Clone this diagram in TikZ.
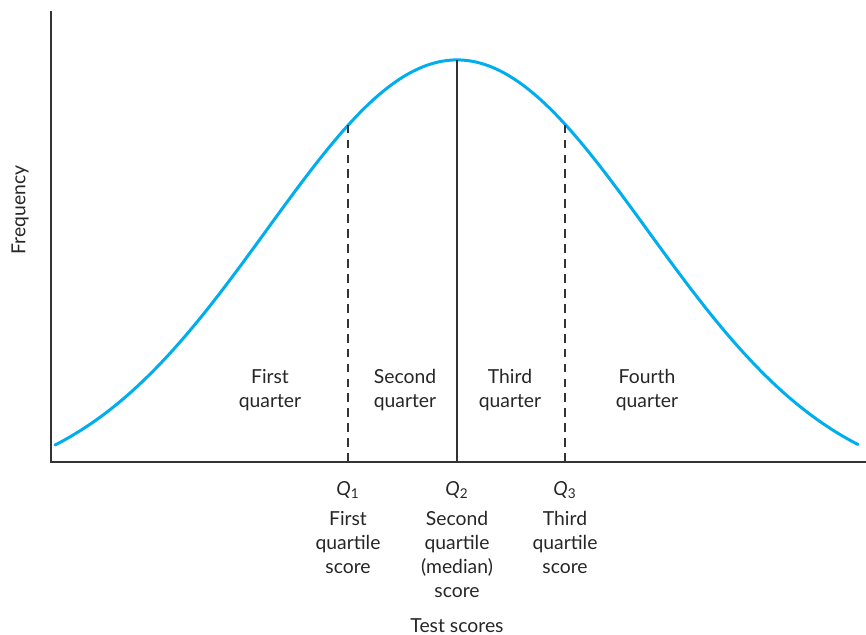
\documentclass[tikz,border=0pt]{standalone}
\usepackage{fontspec}
\setmainfont{Lato}
\usetikzlibrary{positioning}

\definecolor{curveblue}{HTML}{00AEEF}
\definecolor{axisgray}{HTML}{333333}

\begin{document}
\begin{tikzpicture}[x=0.02cm, y=-0.02cm, node distance=0.12cm,
    font=\fontsize{11}{13.7}\selectfont,
    declare function={freq(\t) = 491 - 431*exp(-(((\t-457)/100)^2)/7.22);}]
    % Define styles
    \tikzstyle{axisline}=[draw=axisgray, line width=0.9pt]
    \tikzstyle{quartline}=[draw=axisgray, line width=0.9pt, dashed, dash pattern=on 5pt off 3.5pt]
    \tikzstyle{medline}=[draw=axisgray, line width=1pt]
    \tikzstyle{txt}=[align=center, inner sep=0pt, text=black!85]

    \useasboundingbox (0,0) rectangle (866,635);

    % Axes
    \coordinate (ytop) at (51,11);
    \coordinate (origin) at (51,462);
    \coordinate (xend) at (866,462);
    \draw[axisline] (ytop) -- (origin) -- (xend);
    \node[txt, rotate=90] (freqlab) at (20,210) {Frequency};

    % Frequency curve
    \draw[curveblue, line width=1.7pt, line cap=round]
        plot[domain=55:858, samples=120, smooth] (\x, {freq(\x)});

    % Quartile lines (curve down to axis)
    \coordinate (q1top) at (348, {freq(348)});
    \coordinate (q1bot) at (348, 462);
    \coordinate (q2top) at (457, {freq(457)});
    \coordinate (q2bot) at (457, 462);
    \coordinate (q3top) at (565, {freq(565)});
    \coordinate (q3bot) at (565, 462);
    \draw[quartline] (q1bot) -- (q1top);
    \draw[medline] (q2bot) -- (q2top);
    \draw[quartline] (q3bot) -- (q3top);

    % Quarter labels
    \node[txt] (quarter1) at (270,390) {First\\quarter};
    \node[txt] (quarter2) at (405,390) {Second\\quarter};
    \node[txt] (quarter3) at (510,390) {Third\\quarter};
    \node[txt] (quarter4) at (647,390) {Fourth\\quarter};

    % Quartile scores
    \node[txt] (q1lab) at (348,490) {\textit{Q}\textsubscript{1}};
    \node[txt] (q2lab) at (457,490) {\textit{Q}\textsubscript{2}};
    \node[txt] (q3lab) at (565,490) {\textit{Q}\textsubscript{3}};
    \node[txt, anchor=north] (q1desc) at (348,511) {First\\quartile\\score};
    \node[txt, anchor=north] (q2desc) at (457,511) {Second\\quartile\\(median)\\score};
    \node[txt, anchor=north] (q3desc) at (565,511) {Third\\quartile\\score};

    % Axis title
    \node[txt] (xlab) at (457,626) {Test scores};
\end{tikzpicture}
\end{document}
